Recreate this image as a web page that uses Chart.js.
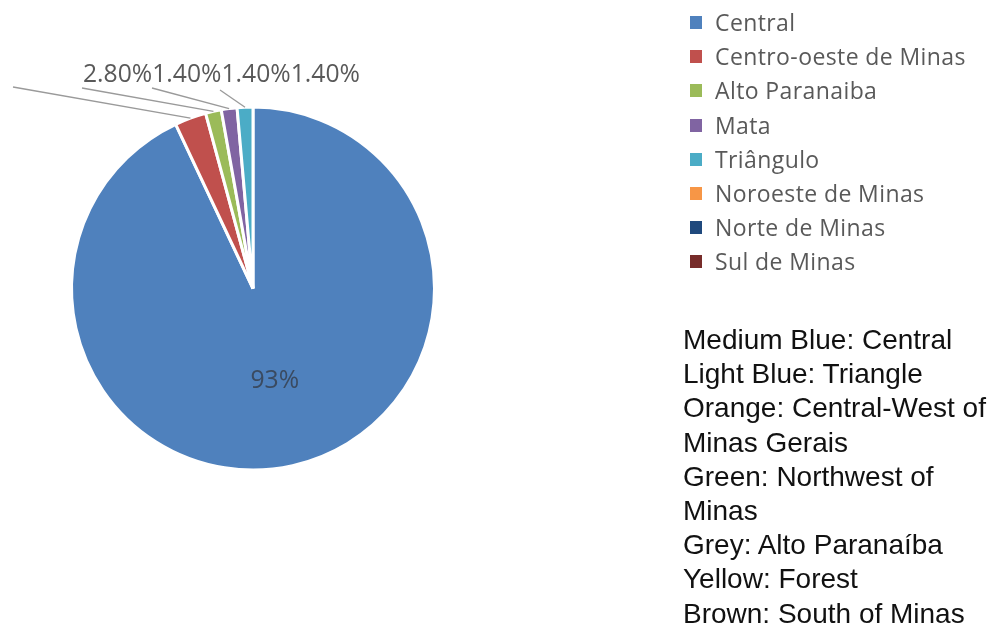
<!DOCTYPE html>
<html>
<head>
<meta charset="utf-8">
<script src="https://cdn.jsdelivr.net/npm/chart.js@4.4.1/dist/chart.umd.min.js"></script>
<style>
    html, body { margin: 0; padding: 0; background: #fff; }
    #wrap { position: relative; width: 994px; height: 623px; overflow: hidden; }
    #chart-box { position: absolute; left: 0; top: 0; width: 994px; height: 623px; }
    #legend { position: absolute; left: 690px; top: 5px; margin: 0; padding: 0; list-style: none;
        font-family: "Open Sans", sans-serif; font-size: 23px; letter-spacing: 0.4px; line-height: 34.2px; color: #595959; }
    #legend li { position: relative; padding-left: 25px; white-space: nowrap; }
    #legend .sw { position: absolute; left: 0; top: 11px; width: 12px; height: 13px; }
    #note { position: absolute; left: 683px; top: 323px; font-family: "Liberation Sans", Arial, sans-serif;
        font-size: 28px; line-height: 34.2px; color: #111; white-space: nowrap; }
</style>
</head>
<body>
<div id="wrap">
    <div id="chart-box"><canvas id="pie"></canvas></div>
    <ul id="legend"></ul>
    <div id="note"></div>
</div>
<script>
// Regions and their share (%)
const regions = ['Central', 'Centro-oeste de Minas', 'Alto Paranaiba', 'Mata', 'Triângulo',
    'Noroeste de Minas', 'Norte de Minas', 'Sul de Minas'];
const shares = [93, 2.8, 1.4, 1.4, 1.4, 0, 0, 0];
const colors = ['#4F81BD', '#C0504D', '#9BBB59', '#8064A2', '#4BACC6', '#F79646', '#1F497D', '#772C2A'];

// Translation note shown under the legend
const noteLines = [
    'Medium Blue: Central',
    'Light Blue: Triangle',
    'Orange: Central-West of',
    'Minas Gerais',
    'Green: Northwest of',
    'Minas',
    'Grey: Alto Paranaíba',
    'Yellow: Forest',
    'Brown: South of Minas'
];

function formatShare(v) {
    return v >= 10 ? v.toFixed(0) + '%' : v.toFixed(2) + '%';
}

// Excel style data labels: big slice label inside, small ones on a row above with leader lines
const sliceLabels = {
    id: 'sliceLabels',
    afterDatasetsDraw(chart) {
        const ctx = chart.ctx;
        const meta = chart.getDatasetMeta(0);
        const data = chart.data.datasets[0].data;
        // leader line ends for the small slices
        const leaderEnds = [null, [13, 87], [82, 88], [152, 88], [220, 90]];
        let textX = 83;
        const textY = 82;

        ctx.save();
        ctx.font = '24.7px "Open Sans", sans-serif';
        ctx.fillStyle = '#595959';
        meta.data.forEach((arc, i) => {
            const v = data[i];
            if (!v) return;
            const label = formatShare(v);
            if (i === 0) {
                const p = arc.tooltipPosition();
                ctx.fillStyle = '#3a4a60';
                ctx.textAlign = 'center';
                ctx.textBaseline = 'middle';
                ctx.fillText(label, p.x + 2, p.y + 4);
                return;
            }
            const mid = (arc.startAngle + arc.endAngle) / 2;
            const sx = arc.x + Math.cos(mid) * arc.outerRadius;
            const sy = arc.y + Math.sin(mid) * arc.outerRadius;
            const end = leaderEnds[i];
            if (end) {
                ctx.strokeStyle = '#9a9a9a';
                ctx.lineWidth = 1.3;
                ctx.beginPath();
                ctx.moveTo(sx, sy);
                ctx.lineTo(end[0], end[1]);
                ctx.stroke();
            }
            ctx.fillStyle = '#595959';
            ctx.textAlign = 'left';
            ctx.textBaseline = 'alphabetic';
            ctx.fillText(label, textX, textY);
            textX += ctx.measureText(label).width;
        });
        ctx.restore();
    }
};

function renderLegend() {
    const ul = document.getElementById('legend');
    ul.innerHTML = regions.map((r, i) =>
        `<li><span class="sw" style="background:${colors[i]}"></span>${r}</li>`).join('');
}

function renderNote() {
    document.getElementById('note').innerHTML = noteLines.join('<br>');
}

const chart = new Chart(document.getElementById('pie'), {
    type: 'pie',
    data: {
        labels: regions,
        datasets: [{
            data: shares,
            backgroundColor: colors,
            borderColor: '#ffffff',
            borderWidth: 3
        }]
    },
    options: {
        responsive: true,
        maintainAspectRatio: false,
        animation: false,
        layout: {
            padding: { left: 70, top: 105, right: 558, bottom: 151 }
        },
        plugins: {
            legend: { display: false },
            tooltip: { enabled: false }
        }
    },
    plugins: [sliceLabels]
});

renderLegend();
renderNote();
</script>
</body>
</html>
